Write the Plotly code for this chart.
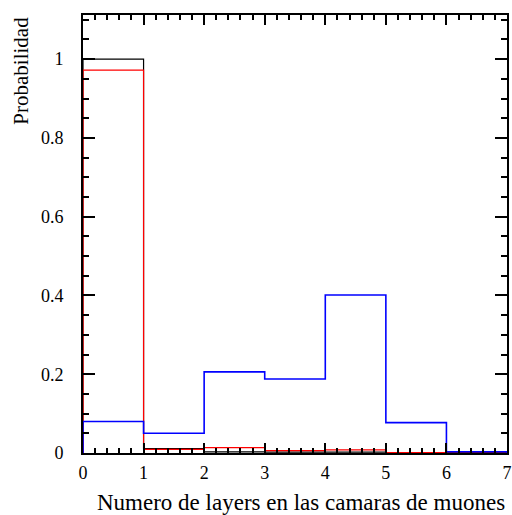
import plotly.graph_objects as go

edges = [0, 1, 2, 3, 4, 5, 6, 7]
black_vals = [1.0, 0.011, 0.003, 0.002, 0.002, 0.001, 0.001]
red_vals = [0.972, 0.009, 0.0135, 0.006, 0.008, 0.001, 0.0]
blue_vals = [0.080, 0.050, 0.206, 0.188, 0.401, 0.077, 0.003]
y_ticks = [0, 0.2, 0.4, 0.6, 0.8, 1]
y_labels = ["0", "0.2", "0.4", "0.6", "0.8", "1"]
x_title = "Numero de layers en las camaras de muones"
y_title = "Probabilidad"

def step(vals):
    xs = [edges[0]] + edges[:-1] + [edges[-1], edges[-1]]
    ys = [0] + list(vals) + [vals[-1], 0]
    return xs, ys

fig = go.Figure()
for vals, color, w in [(black_vals, "#000000", 1.2), (red_vals, "#ff0000", 1.2), (blue_vals, "#0000ff", 1.6)]:
    xs, ys = step(vals)
    fig.add_trace(go.Scatter(x=xs, y=ys, mode="lines", line=dict(color=color, width=w, shape="hv"),
                             showlegend=False, hoverinfo="skip"))

font = "Liberation Serif"
fig.update_layout(
    width=512, height=515,
    margin=dict(l=83, r=5, t=15, b=62, autoexpand=False),
    plot_bgcolor="white", paper_bgcolor="white",
    font=dict(family=font, size=17, color="black"),
    xaxis=dict(range=[0, 7], tickvals=edges, ticks="inside", ticklen=10, tickwidth=1.5, tickcolor="black",
               showline=True, linecolor="black", linewidth=2, mirror="allticks", showgrid=False, zeroline=False,
               automargin=False,
               minor=dict(dtick=0.2, ticks="inside", ticklen=5, tickwidth=1.5, tickcolor="black", showgrid=False),
               tickfont=dict(size=18, family=font), ticklabelstandoff=2),
    yaxis=dict(range=[0, 1.112], tickvals=y_ticks, ticktext=y_labels, ticks="inside", ticklen=12, tickwidth=1.5,
               tickcolor="black", showline=True, linecolor="black", linewidth=2, mirror="allticks", showgrid=False,
               zeroline=False, automargin=False,
               minor=dict(dtick=0.05, ticks="inside", ticklen=6, tickwidth=1.5, tickcolor="black", showgrid=False),
               tickfont=dict(size=18, family=font), ticklabelstandoff=14),
    annotations=[
        dict(text=x_title, xref="paper", yref="paper", x=1.0, y=-0.08, xanchor="right", yanchor="top",
             showarrow=False, font=dict(size=23, family=font)),
        dict(text=y_title, xref="paper", yref="paper", x=-0.18, y=1.0, xanchor="left", yanchor="top",
             textangle=-90, showarrow=False, font=dict(size=21, family=font)),
    ],
)
fig.write_html("out.html")
